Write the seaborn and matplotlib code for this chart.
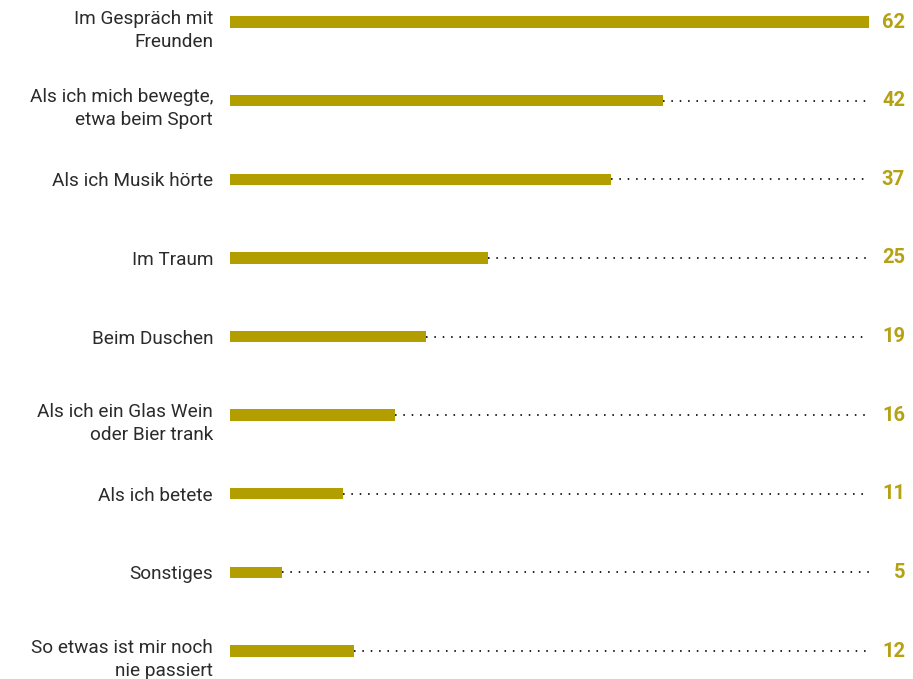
import matplotlib
matplotlib.use("Agg")
import matplotlib.pyplot as plt
import seaborn as sns
import pandas as pd
from matplotlib.transforms import blended_transform_factory

categories = [
    "Im Gespräch mit\nFreunden",
    "Als ich mich bewegte,\netwa beim Sport",
    "Als ich Musik hörte",
    "Im Traum",
    "Beim Duschen",
    "Als ich ein Glas Wein\noder Bier trank",
    "Als ich betete",
    "Sonstiges",
    "So etwas ist mir noch\nnie passiert",
]
values = [62, 42, 37, 25, 19, 16, 11, 5, 12]

BAR = "#b39e00"
VAL = "#b5a214"
TXT = "#2b2b2b"

sns.set_theme(style="white")
plt.rcParams["font.family"] = ["Roboto", "DejaVu Sans"]

df = pd.DataFrame({"cat": categories, "val": values})

fig = plt.figure(figsize=(9.13, 6.79), dpi=100)
ax = fig.add_axes([230 / 913, 0, 639 / 913, 1])
sns.barplot(data=df, x="val", y="cat", orient="h", color=BAR, width=0.145,
            saturation=1, linewidth=0, ax=ax)
xmax = max(values)
ax.set_xlim(0, xmax)
ax.set_ylim(8.356, -0.28)
ax.set_axis_off()

PX = 72 / 100  # points per pixel
trans = blended_transform_factory(ax.transAxes, ax.transData)
for i, (c, v) in enumerate(zip(categories, values)):
    if v < xmax:
        ax.hlines(i, v, xmax, colors="#222222", linewidth=1.4,
                  linestyles=(0, (0.8, 3.5)), clip_on=False)
    lines = c.split("\n")
    first = 7 if len(lines) == 1 else 1.5
    for k, line in enumerate(lines):
        ax.annotate(line, xy=(0, i),
                    xytext=(-17 * PX, -(first + k * 23) * PX),
                    textcoords="offset points", ha="right", va="baseline",
                    fontsize=13.7, color=TXT, annotation_clip=False)
    ax.text((905 - 230) / 639, i, str(v), transform=trans, ha="right",
            va="center", fontsize=14.5, fontweight="bold", color=VAL,
            clip_on=False)

fig.savefig("out.png", dpi=100)
